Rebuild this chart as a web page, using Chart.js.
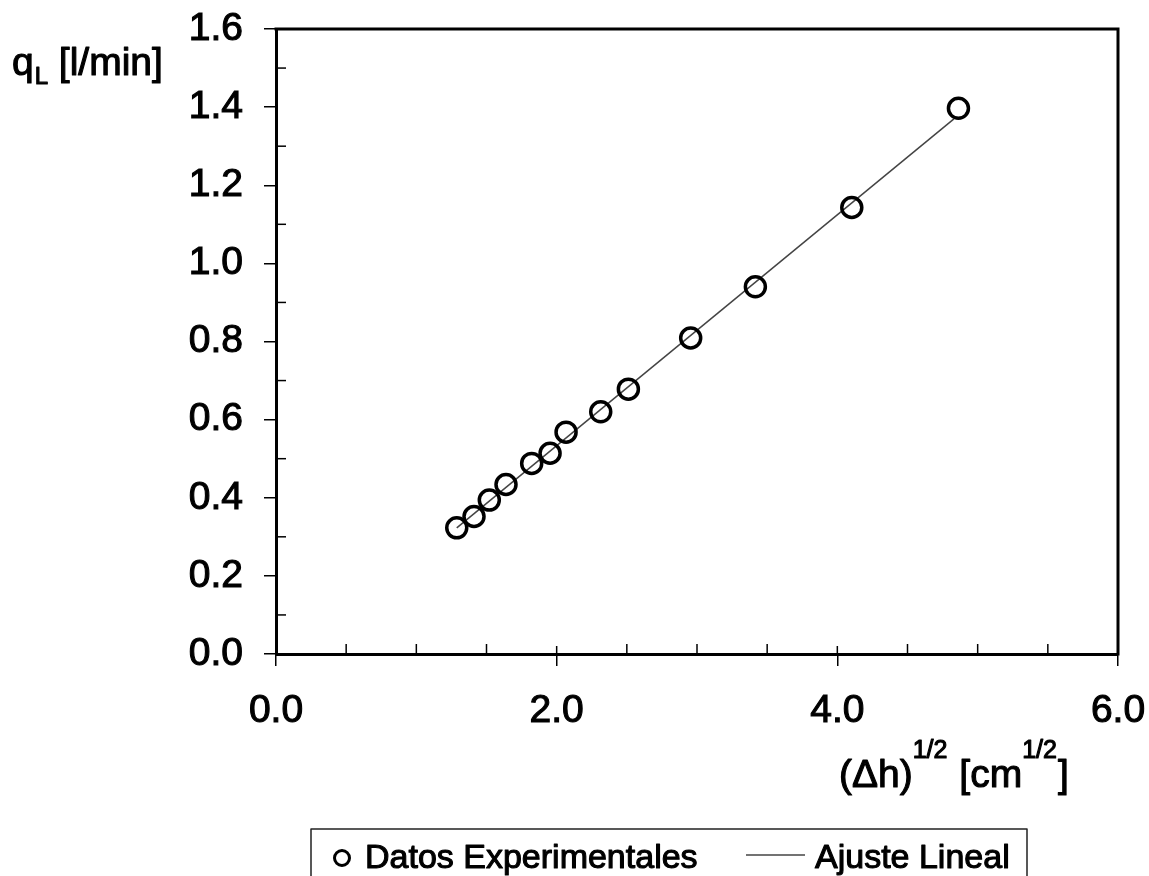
<!DOCTYPE html>
<html>
<head>
<meta charset="utf-8">
<script src="https://cdn.jsdelivr.net/npm/chart.js@4.4.0/dist/chart.umd.min.js"></script>
<style>
  html, body { margin: 0; padding: 0; background: #fff; }
  #wrap { width: 1149px; height: 876px; }
</style>
</head>
<body>
<div id="wrap"><canvas id="chart" width="1149" height="876"></canvas></div>
<script>
// valores
const sqrtDh = [1.288, 1.411, 1.520, 1.639, 1.822, 1.953, 2.067, 2.314, 2.511, 2.955, 3.416, 4.103, 4.863];
const qL = [0.323, 0.352, 0.394, 0.434, 0.488, 0.514, 0.568, 0.620, 0.678, 0.809, 0.940, 1.143, 1.397];
const fitX = [1.288, 4.831];
const fitY = [0.323, 1.370];
const xTicks = [0, 2, 4, 6];
const yTicks = [0, 0.2, 0.4, 0.6, 0.8, 1.0, 1.2, 1.4, 1.6];
const xMinor = [0.5, 1, 1.5, 2.5, 3, 3.5, 4.5, 5, 5.5];
const yMinor = [0.1, 0.3, 0.5, 0.7, 0.9, 1.1, 1.3, 1.5];
const seriesNames = ['Datos Experimentales', 'Ajuste Lineal'];

const FONT = '"Liberation Sans", Arial, sans-serif';

// texto con trazo para que se vea tan grueso como el escaneo
function text(ctx, t, x, y) {
    ctx.fillText(t, x, y);
    ctx.strokeText(t, x, y);
}

// marco, ticks menores, titulos de ejes y leyenda
const decor = {
    id: 'decor',
    afterDraw(chart) {
        const { ctx, chartArea: a, scales: { x, y } } = chart;
        const seg = (x1, y1, x2, y2) => { ctx.beginPath(); ctx.moveTo(x1, y1); ctx.lineTo(x2, y2); ctx.stroke(); };
        ctx.save();
        ctx.strokeStyle = '#000';
        ctx.lineWidth = 3;
        ctx.beginPath();
        ctx.moveTo(a.left - 1.5, a.top);
        ctx.lineTo(a.right, a.top);
        ctx.lineTo(a.right, a.bottom + 1.5);
        ctx.stroke();

        ctx.lineWidth = 1.5;
        xMinor.forEach(v => { const px = x.getPixelForValue(v); seg(px, a.bottom, px, a.bottom - 10); });
        xTicks.forEach(v => { const px = x.getPixelForValue(v); seg(px, a.bottom, px, a.bottom - 8); });
        yMinor.forEach(v => { const py = y.getPixelForValue(v); seg(a.left, py, a.left + 10, py); });

        ctx.fillStyle = '#000';
        ctx.strokeStyle = '#000';
        ctx.lineWidth = 1.1;
        ctx.lineJoin = 'round';
        ctx.textBaseline = 'alphabetic';
        ctx.textAlign = 'left';

        // titulo eje y: qL [l/min]
        let cx = 12;
        ctx.font = '39px ' + FONT;
        text(ctx, 'q', cx, 75);
        cx += ctx.measureText('q').width + 1;
        ctx.font = '24px ' + FONT;
        text(ctx, 'L', cx, 84);
        cx += ctx.measureText('L').width;
        ctx.font = '39px ' + FONT;
        text(ctx, ' [l/min]', cx, 75);

        // titulo eje x: (Δh)^1/2 [cm^1/2]
        cx = 839;
        const parts = [['(\u0394h)', 39, 787], ['1/2', 25, 758], [' [cm', 39, 787], ['1/2', 25, 758], [']', 39, 787]];
        parts.forEach(([t, s, b]) => {
            ctx.font = s + 'px ' + FONT;
            text(ctx, t, cx, b);
            cx += ctx.measureText(t).width + (s < 30 ? 1 : 0);
        });

        // leyenda
        ctx.lineWidth = 1.5;
        ctx.strokeStyle = '#222';
        ctx.strokeRect(311, 829, 716, 80);
        ctx.strokeStyle = '#000';
        ctx.lineWidth = 3;
        ctx.beginPath();
        ctx.arc(342, 858, 7.5, 0, Math.PI * 2);
        ctx.stroke();
        ctx.lineWidth = 1.1;
        ctx.font = '34px ' + FONT;
        text(ctx, seriesNames[0], 365, 868);
        text(ctx, seriesNames[1], 815, 868);
        ctx.strokeStyle = '#444';
        ctx.lineWidth = 1.5;
        seg(746, 855, 805, 855);
        ctx.restore();
    }
};

const tickFont = { family: FONT, size: 39 };

new Chart(document.getElementById('chart').getContext('2d'), {
    type: 'scatter',
    data: {
        datasets: [{
            label: seriesNames[0],
            data: sqrtDh.map((v, i) => ({ x: v, y: qL[i] })),
            pointStyle: 'circle',
            pointRadius: 10,
            borderWidth: 3.5,
            borderColor: '#000',
            backgroundColor: 'rgba(0,0,0,0)',
            showLine: false
        }, {
            label: seriesNames[1],
            data: fitX.map((v, i) => ({ x: v, y: fitY[i] })),
            showLine: true,
            pointRadius: 0,
            borderColor: '#444',
            borderWidth: 1.5
        }]
    },
    options: {
        responsive: false,
        animation: false,
        events: [],
        layout: { padding: { left: 0, top: 29, right: 31, bottom: 122 } },
        scales: {
            x: {
                type: 'linear',
                min: 0,
                max: 6,
                afterBuildTicks: s => { s.ticks = xTicks.map(v => ({ value: v })); },
                afterFit: s => { s.height = 100; s.paddingLeft = 0; s.paddingRight = 0; },
                border: { display: true, color: '#000', width: 3 },
                grid: { drawOnChartArea: false, drawTicks: true, tickLength: 12, color: '#000', lineWidth: 1.5 },
                ticks: {
                    color: '#000',
                    font: tickFont,
                    textStrokeColor: '#000',
                    textStrokeWidth: 1.1,
                    padding: 22,
                    maxRotation: 0,
                    callback: v => Number(v).toFixed(1)
                }
            },
            y: {
                type: 'linear',
                min: 0,
                max: 1.6,
                afterBuildTicks: s => { s.ticks = yTicks.map(v => ({ value: v })); },
                afterFit: s => { s.width = 276; s.paddingTop = 0; s.paddingBottom = 0; },
                border: { display: true, color: '#000', width: 3 },
                grid: { drawOnChartArea: false, drawTicks: true, tickLength: 12, color: '#000', lineWidth: 1.5 },
                ticks: {
                    color: '#000',
                    font: tickFont,
                    textStrokeColor: '#000',
                    textStrokeWidth: 1.1,
                    padding: 21,
                    callback: v => Number(v).toFixed(1)
                }
            }
        },
        plugins: {
            legend: { display: false },
            tooltip: { enabled: false }
        }
    },
    plugins: [decor]
});
</script>
</body>
</html>
